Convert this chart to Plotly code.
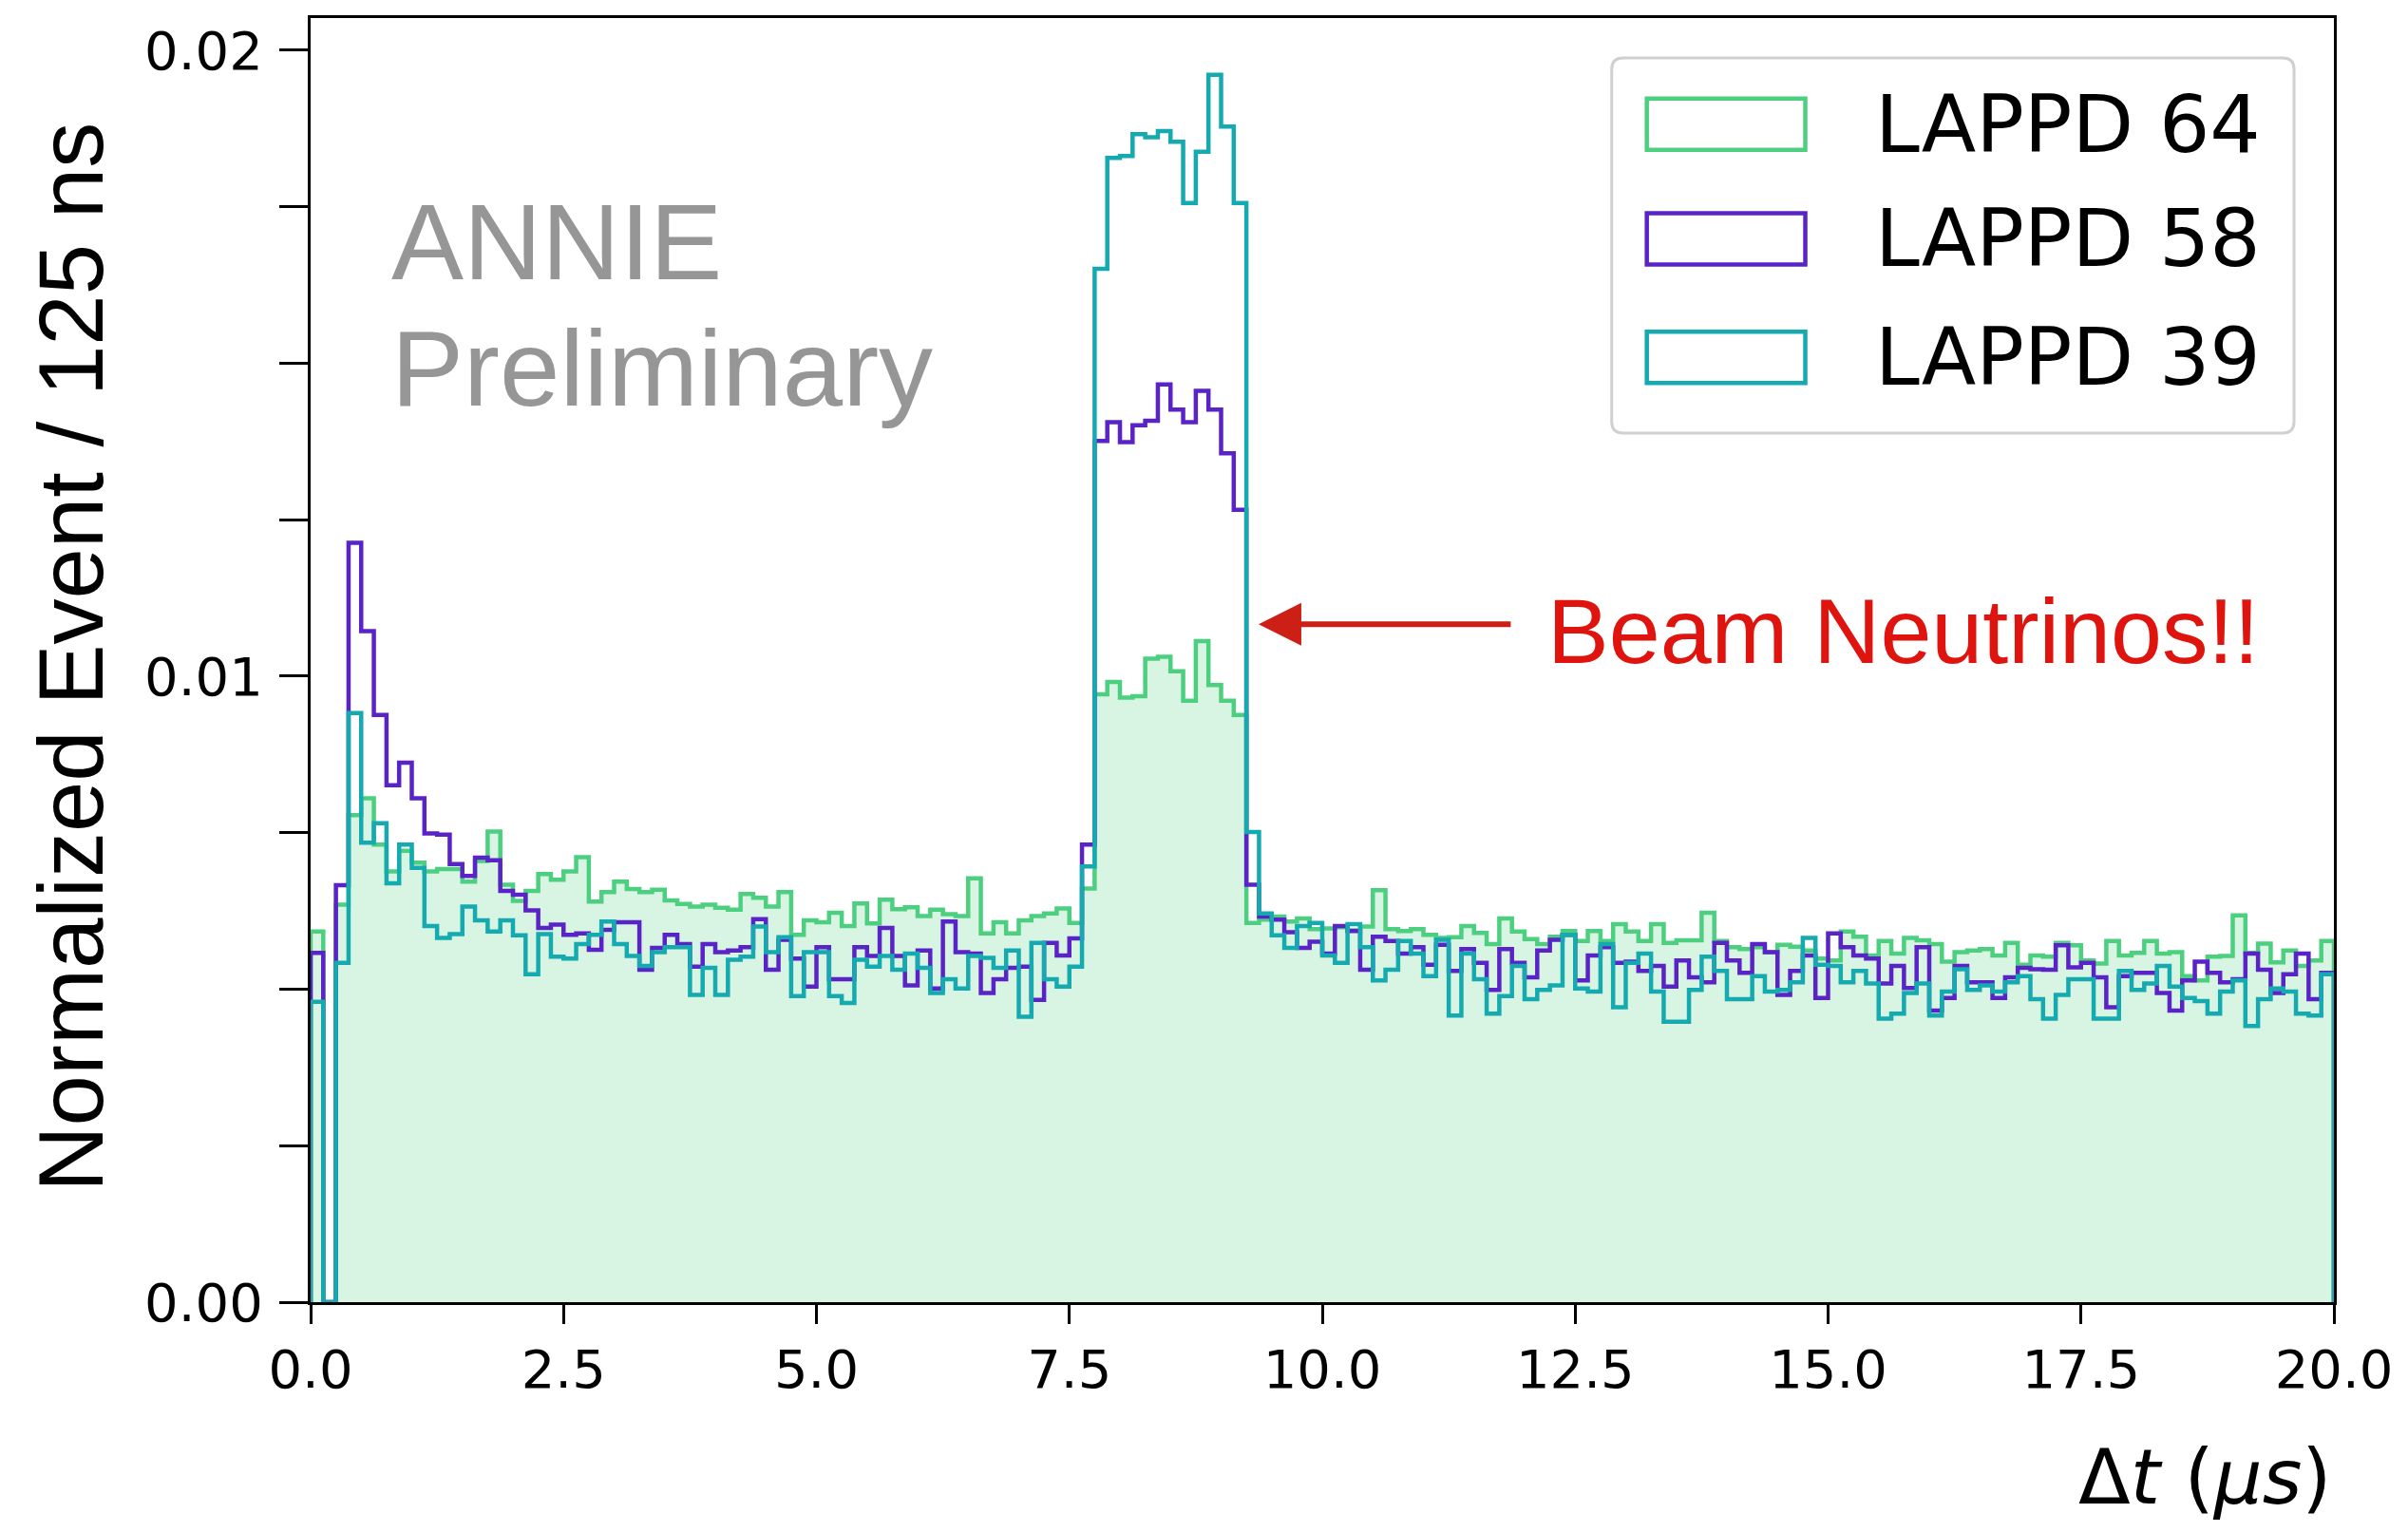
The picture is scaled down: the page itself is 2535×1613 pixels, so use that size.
import numpy as np
import plotly.graph_objects as go

# ---------------- data ----------------
BIN_WIDTH_US = 0.125
T_START_US = 0.0

lappd64 = [0.00592, 0.0, 0.00635, 0.00778, 0.00805, 0.00731, 0.00688, 0.00721, 0.00702, 0.00688,
           0.00692, 0.00692, 0.00672, 0.00705, 0.00752, 0.00667, 0.00641, 0.00657, 0.00684, 0.00675,
           0.00688, 0.00711, 0.00640, 0.00655, 0.00672, 0.00660, 0.00655, 0.00659, 0.00642, 0.00636,
           0.00632, 0.00635, 0.00630, 0.00627, 0.00652, 0.00646, 0.00632, 0.00655, 0.00587, 0.00610,
           0.00607, 0.00622, 0.00601, 0.00637, 0.00605, 0.00643, 0.00628, 0.00631, 0.00617, 0.00627,
           0.00620, 0.00617, 0.00677, 0.00589, 0.00607, 0.00589, 0.00610, 0.00617, 0.00621, 0.00629,
           0.00606, 0.00661, 0.00971, 0.00991, 0.00966, 0.00968, 0.01028, 0.01031, 0.01008, 0.00961,
           0.01056, 0.00986, 0.00961, 0.00938, 0.00606, 0.00611, 0.00616, 0.00608, 0.00613, 0.00596,
           0.00597, 0.00599, 0.00594, 0.00600, 0.00658, 0.00596, 0.00593, 0.00596, 0.00587, 0.00582,
           0.00583, 0.00601, 0.00590, 0.00572, 0.00613, 0.00592, 0.00580, 0.00572, 0.00584, 0.00593,
           0.00577, 0.00593, 0.00577, 0.00604, 0.00592, 0.00577, 0.00604, 0.00574, 0.00578, 0.00578,
           0.00622, 0.00577, 0.00567, 0.00564, 0.00567, 0.00559, 0.00571, 0.00568, 0.00562, 0.00549,
           0.00546, 0.00592, 0.00584, 0.00554, 0.00577, 0.00557, 0.00582, 0.00578, 0.00572, 0.00544,
           0.00559, 0.00562, 0.00564, 0.00554, 0.00574, 0.00539, 0.00554, 0.00552, 0.00574, 0.00570,
           0.00546, 0.00541, 0.00577, 0.00554, 0.00558, 0.00577, 0.00557, 0.00559, 0.00521, 0.00514,
           0.00552, 0.00553, 0.00618, 0.00558, 0.00573, 0.00543, 0.00562, 0.00537, 0.00546, 0.00577]

lappd58 = [0.00558, 0.0, 0.00666, 0.01213, 0.01072, 0.00938, 0.00826, 0.00862, 0.00805, 0.00749,
           0.00747, 0.00700, 0.00681, 0.00710, 0.00706, 0.00657, 0.00651, 0.00626, 0.00598, 0.00603,
           0.00587, 0.00589, 0.00563, 0.00595, 0.00607, 0.00607, 0.00531, 0.00566, 0.00587, 0.00572,
           0.00536, 0.00572, 0.00559, 0.00562, 0.00567, 0.00612, 0.00531, 0.00579, 0.00549, 0.00504,
           0.00567, 0.00516, 0.00516, 0.00567, 0.00553, 0.00598, 0.00553, 0.00506, 0.00562, 0.00501,
           0.00608, 0.00559, 0.00557, 0.00494, 0.00516, 0.00534, 0.00536, 0.00483, 0.00574, 0.00554,
           0.00581, 0.00731, 0.01376, 0.01406, 0.01374, 0.01401, 0.01408, 0.01466, 0.01426, 0.01406,
           0.01456, 0.01426, 0.01356, 0.01266, 0.00667, 0.00616, 0.00611, 0.00591, 0.00566, 0.00576,
           0.00557, 0.00601, 0.00593, 0.00531, 0.00584, 0.00577, 0.00557, 0.00567, 0.00539, 0.00571,
           0.00529, 0.00564, 0.00542, 0.00499, 0.00564, 0.00542, 0.00519, 0.00562, 0.00579, 0.00587,
           0.00514, 0.00554, 0.00567, 0.00542, 0.00544, 0.00529, 0.00537, 0.00504, 0.00546, 0.00519,
           0.00511, 0.00574, 0.00546, 0.00526, 0.00572, 0.00559, 0.00491, 0.00529, 0.00554, 0.00486,
           0.00589, 0.00567, 0.00554, 0.00549, 0.00509, 0.00537, 0.00502, 0.00567, 0.00466, 0.00486,
           0.00537, 0.00511, 0.00511, 0.00486, 0.00519, 0.00534, 0.00532, 0.00531, 0.00570, 0.00535,
           0.00542, 0.00519, 0.00471, 0.00521, 0.00526, 0.00526, 0.00494, 0.00466, 0.00514, 0.00544,
           0.00526, 0.00511, 0.00516, 0.00557, 0.00531, 0.00494, 0.00524, 0.00557, 0.00484, 0.00526]

lappd39 = [0.00480, 0.0, 0.00542, 0.00941, 0.00734, 0.00765, 0.00669, 0.00731, 0.00694, 0.00601,
           0.00582, 0.00588, 0.00632, 0.00610, 0.00592, 0.00610, 0.00586, 0.00524, 0.00588, 0.00552,
           0.00549, 0.00572, 0.00587, 0.00608, 0.00572, 0.00553, 0.00537, 0.00559, 0.00567, 0.00567,
           0.00491, 0.00534, 0.00491, 0.00547, 0.00552, 0.00600, 0.00559, 0.00583, 0.00489, 0.00559,
           0.00559, 0.00489, 0.00478, 0.00547, 0.00536, 0.00553, 0.00531, 0.00557, 0.00534, 0.00494,
           0.00516, 0.00501, 0.00553, 0.00550, 0.00534, 0.00562, 0.00456, 0.00574, 0.00516, 0.00504,
           0.00536, 0.00696, 0.01651, 0.01828, 0.01831, 0.01866, 0.01861, 0.01871, 0.01854, 0.01756,
           0.01838, 0.01961, 0.01878, 0.01756, 0.00751, 0.00621, 0.00586, 0.00566, 0.00601, 0.00606,
           0.00554, 0.00542, 0.00604, 0.00567, 0.00514, 0.00531, 0.00577, 0.00557, 0.00521, 0.00579,
           0.00458, 0.00557, 0.00516, 0.00461, 0.00489, 0.00537, 0.00484, 0.00499, 0.00506, 0.00587,
           0.00501, 0.00496, 0.00572, 0.00471, 0.00542, 0.00557, 0.00496, 0.00448, 0.00448, 0.00499,
           0.00552, 0.00529, 0.00484, 0.00484, 0.00521, 0.00496, 0.00499, 0.00511, 0.00582, 0.00539,
           0.00537, 0.00511, 0.00529, 0.00509, 0.00453, 0.00461, 0.00494, 0.00509, 0.00458, 0.00496,
           0.00532, 0.00499, 0.00506, 0.00496, 0.00511, 0.00521, 0.00484, 0.00453, 0.00491, 0.00516,
           0.00516, 0.00453, 0.00453, 0.00529, 0.00499, 0.00509, 0.00537, 0.00504, 0.00486, 0.00481,
           0.00461, 0.00496, 0.00514, 0.00441, 0.00484, 0.00501, 0.00496, 0.00461, 0.00458, 0.00524]

series_names = ["LAPPD 64", "LAPPD 58", "LAPPD 39"]
x_tick_values = [0.0, 2.5, 5.0, 7.5, 10.0, 12.5, 15.0, 17.5, 20.0]
x_tick_labels = ["0.0", "2.5", "5.0", "7.5", "10.0", "12.5", "15.0", "17.5", "20.0"]
y_tick_values = [0.0, 0.01, 0.02]
y_tick_labels = ["0.00", "0.01", "0.02"]
arrow_target = (9.37, 0.01083)  # where the annotation arrow points (data units)

# ---------------- styling ----------------
COL64 = "#4cd080"
COL58 = "#5a23c8"
COL39 = "#14aaaf"
FILL64 = "rgba(76,208,128,0.22)"
LW = 4.5
SANS = "Liberation Sans, Arial, Helvetica, sans-serif"
DEJAVU = "DejaVu Sans, sans-serif"

n_bins = len(lappd64)
edges = T_START_US + BIN_WIDTH_US * np.arange(n_bins + 1)


def step_outline(vals):
    v = list(vals)
    xs = [edges[0]] + list(edges[:-1]) + [edges[-1], edges[-1]]
    ys = [0.0] + v + [v[-1], 0.0]
    return xs, ys


fig = go.Figure()

x64, y64 = step_outline(lappd64)
fig.add_trace(go.Scatter(x=x64, y=y64, mode="lines", line=dict(shape="hv", color=COL64, width=LW),
                         fill="tozeroy", fillcolor=FILL64, name=series_names[0], showlegend=False,
                         hoverinfo="skip"))
x58, y58 = step_outline(lappd58)
fig.add_trace(go.Scatter(x=x58, y=y58, mode="lines", line=dict(shape="hv", color=COL58, width=LW),
                         name=series_names[1], showlegend=False, hoverinfo="skip"))
x39, y39 = step_outline(lappd39)
fig.add_trace(go.Scatter(x=x39, y=y39, mode="lines", line=dict(shape="hv", color=COL39, width=LW),
                         name=series_names[2], showlegend=False, hoverinfo="skip"))

# page geometry (the browser body adds an 8px margin around the plot div)
BODY = 8
PAGE_W, PAGE_H = 2535, 1613
PLOT_L, PLOT_R, PLOT_T, PLOT_B = 327, 2459, 16, 1371   # plot area in page pixels
W, H = PAGE_W - 2 * BODY, PAGE_H - 2 * BODY
ML = PLOT_L - BODY
MT = PLOT_T - BODY
MR = (BODY + W) - PLOT_R
MB = (BODY + H) - PLOT_B
PW, PH = PLOT_R - PLOT_L, PLOT_B - PLOT_T

fig.update_layout(
    width=W, height=H,
    margin=dict(l=ML, r=MR, t=MT, b=MB, pad=0),
    paper_bgcolor="white", plot_bgcolor="white",
    showlegend=False,
    xaxis=dict(range=[0, 20], tickvals=x_tick_values, ticktext=x_tick_labels,
               ticks="outside", ticklen=20, tickwidth=3, tickcolor="black",
               showline=True, linewidth=3, linecolor="black", mirror=True,
               showgrid=False, zeroline=False,
               tickfont=dict(family=DEJAVU, size=56, color="black")),
    yaxis=dict(range=[0, 0.020515], tickvals=y_tick_values, ticktext=y_tick_labels,
               ticks="outside", ticklen=20, tickwidth=3, tickcolor="black",
               showline=True, linewidth=3, linecolor="black", mirror=True,
               showgrid=False, zeroline=False, ticklabelstandoff=16,
               minor=dict(tick0=0, dtick=0.0025, ticks="outside", ticklen=30, tickwidth=3,
                          tickcolor="black", showgrid=False),
               tickfont=dict(family=DEJAVU, size=56, color="black")),
)


def px_to_paper_x(px):
    return (px - PLOT_L) / PW


def px_to_paper_y(py):
    return (PLOT_B - py) / PH


annotations = []
# y-axis title
annotations.append(dict(text="Normalized Event / 125 ns", xref="paper", yref="paper",
                        x=px_to_paper_x(74), y=px_to_paper_y(690), xanchor="center", yanchor="middle",
                        textangle=-90, showarrow=False,
                        font=dict(family=SANS, size=96, color="black")))
# x-axis title (right aligned)
annotations.append(dict(text="Δ<i>t</i> (<i>μs</i>)", xref="paper", yref="paper",
                        x=1.0, y=px_to_paper_y(1556), xanchor="right", yanchor="middle",
                        showarrow=False, font=dict(family=DEJAVU, size=80, color="black")))
# ANNIE Preliminary
annotations.append(dict(text="ANNIE", xref="paper", yref="paper",
                        x=px_to_paper_x(410), y=px_to_paper_y(252), xanchor="left", yanchor="middle",
                        showarrow=False, font=dict(family=SANS, size=114, color="#969696")))
annotations.append(dict(text="Preliminary", xref="paper", yref="paper",
                        x=px_to_paper_x(410), y=px_to_paper_y(385), xanchor="left", yanchor="middle",
                        showarrow=False, font=dict(family=SANS, size=114, color="#969696")))
# Beam neutrinos label + arrow
annotations.append(dict(text="Beam Neutrinos!!", xref="paper", yref="paper",
                        x=px_to_paper_x(1628), y=px_to_paper_y(663), xanchor="left", yanchor="middle",
                        showarrow=False, font=dict(family=SANS, size=97, color="#e0140f")))
annotations.append(dict(text="", x=arrow_target[0], y=arrow_target[1], xref="x", yref="y",
                        showarrow=True, ax=267, ay=0, arrowhead=2, arrowsize=1.5, arrowwidth=6,
                        arrowcolor="#cc1f16", standoff=0))

# legend (manual)
shapes = []
lx0, lx1 = px_to_paper_x(1698), px_to_paper_x(2417)
ly0, ly1 = px_to_paper_y(454), px_to_paper_y(58)
rx, ry = 12 / PW, 12 / PH
path = (f"M {lx0+rx},{ly0} L {lx1-rx},{ly0} Q {lx1},{ly0} {lx1},{ly0+ry} "
        f"L {lx1},{ly1-ry} Q {lx1},{ly1} {lx1-rx},{ly1} L {lx0+rx},{ly1} "
        f"Q {lx0},{ly1} {lx0},{ly1-ry} L {lx0},{ly0+ry} Q {lx0},{ly0} {lx0+rx},{ly0} Z")
shapes.append(dict(type="path", xref="paper", yref="paper", path=path,
                   line=dict(color="#d0d0d0", width=3), fillcolor="rgba(255,255,255,0.85)",
                   layer="above"))
row_centers = [128, 249, 374]
for name, col, rc in zip(series_names, [COL64, COL58, COL39], row_centers):
    shapes.append(dict(type="rect", xref="paper", yref="paper",
                       x0=px_to_paper_x(1735), x1=px_to_paper_x(1902),
                       y0=px_to_paper_y(rc + 27), y1=px_to_paper_y(rc - 27),
                       line=dict(color=col, width=LW), fillcolor="rgba(0,0,0,0)", layer="above"))
    annotations.append(dict(text=name, xref="paper", yref="paper",
                            x=px_to_paper_x(1974), y=px_to_paper_y(rc), xanchor="left",
                            yanchor="middle", showarrow=False,
                            font=dict(family=DEJAVU, size=84, color="black")))

fig.update_layout(annotations=annotations, shapes=shapes)
fig.write_html("out.html")
